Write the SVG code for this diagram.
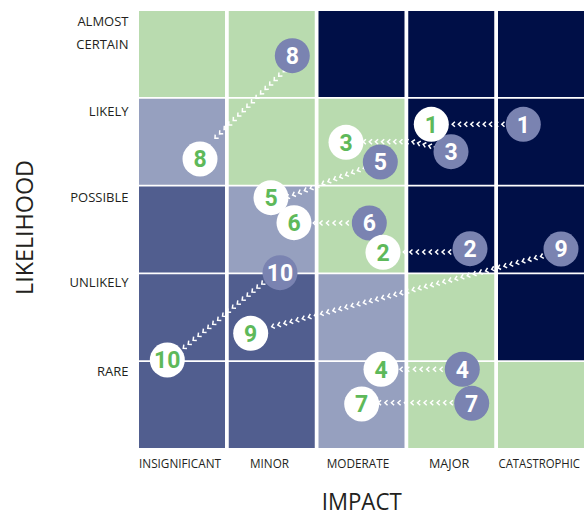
<svg xmlns="http://www.w3.org/2000/svg" width="584" height="516" viewBox="0 0 584 516">
<style>
.g{fill:#b9dbaf}.n{fill:#000f47}.m{fill:#515e8f}.l{fill:#96a0bf}
.lab{font-family:"Open Sans","Liberation Sans",sans-serif;font-size:13px;fill:#231f20}
.ax{font-family:"Open Sans","Liberation Sans",sans-serif;font-size:24px;fill:#231f20}
.wc{fill:#fff}.gc{fill:#7a83b1}
.num{font-family:Roboto,"Liberation Sans",sans-serif;font-weight:bold;font-size:23px;text-anchor:middle}
.wn{fill:#5eb95a}.gn{fill:#fff}
.con{fill:none;stroke:none;marker-start:url(#chev);marker-mid:url(#chev);marker-end:url(#chev)}
</style>
<defs>
<marker id="chev" viewBox="-4 -4 8 8" markerWidth="8" markerHeight="8" markerUnits="userSpaceOnUse" orient="auto" overflow="visible"><path d="M-2.7,-2.5L0,0L-2.7,2.5" fill="none" stroke="#fff" stroke-width="1.5"/></marker>
</defs>
<g id="grid">
<rect class="g" x="139" y="11" width="86" height="86"/><rect class="g" x="228.75" y="11" width="86" height="86"/><rect class="n" x="318.5" y="11" width="86" height="86"/><rect class="n" x="408.25" y="11" width="86" height="86"/><rect class="n" x="498" y="11" width="86" height="86"/>
<rect class="l" x="139" y="98.75" width="86" height="86"/><rect class="g" x="228.75" y="98.75" width="86" height="86"/><rect class="g" x="318.5" y="98.75" width="86" height="86"/><rect class="n" x="408.25" y="98.75" width="86" height="86"/><rect class="n" x="498" y="98.75" width="86" height="86"/>
<rect class="m" x="139" y="186.5" width="86" height="86"/><rect class="l" x="228.75" y="186.5" width="86" height="86"/><rect class="g" x="318.5" y="186.5" width="86" height="86"/><rect class="n" x="408.25" y="186.5" width="86" height="86"/><rect class="n" x="498" y="186.5" width="86" height="86"/>
<rect class="m" x="139" y="274.25" width="86" height="86"/><rect class="m" x="228.75" y="274.25" width="86" height="86"/><rect class="l" x="318.5" y="274.25" width="86" height="86"/><rect class="g" x="408.25" y="274.25" width="86" height="86"/><rect class="n" x="498" y="274.25" width="86" height="86"/>
<rect class="m" x="139" y="362" width="86" height="86"/><rect class="m" x="228.75" y="362" width="86" height="86"/><rect class="l" x="318.5" y="362" width="86" height="86"/><rect class="g" x="408.25" y="362" width="86" height="86"/><rect class="g" x="498" y="362" width="86" height="86"/>
</g>
<g id="labels">
<text class="lab" x="128.5" y="26" text-anchor="end">ALMOST</text>
<text class="lab" x="128.5" y="49" text-anchor="end">CERTAIN</text>
<text class="lab" x="128.5" y="115.7" text-anchor="end">LIKELY</text>
<text class="lab" x="128.5" y="201.5" text-anchor="end">POSSIBLE</text>
<text class="lab" x="128.5" y="287.3" text-anchor="end">UNLIKELY</text>
<text class="lab" x="128.5" y="375.7" text-anchor="end">RARE</text>
<text class="lab" x="139" y="468.3" textLength="82" lengthAdjust="spacingAndGlyphs">INSIGNIFICANT</text>
<text class="lab" x="250" y="468.3" textLength="39" lengthAdjust="spacingAndGlyphs">MINOR</text>
<text class="lab" x="326.7" y="468.3" textLength="62.6" lengthAdjust="spacingAndGlyphs">MODERATE</text>
<text class="lab" x="429" y="468.3" textLength="40.3" lengthAdjust="spacingAndGlyphs">MAJOR</text>
<text class="lab" x="498.5" y="468.3" style="font-size:12px" textLength="81.5" lengthAdjust="spacingAndGlyphs">CATASTROPHIC</text>
<text class="ax" x="321.7" y="509.5" textLength="80" lengthAdjust="spacingAndGlyphs">IMPACT</text>
<text class="ax" transform="translate(33.3,295) rotate(-90)" x="0" y="0" textLength="135" lengthAdjust="spacingAndGlyphs">LIKELIHOOD</text>
</g>
<g id="connectors">
<path id="c1" class="con" d="M508,124.3h-6.2-6.2-6.2-6.2-6.2-6.2-6.2-6.2-6.2"/>
<path id="c3" class="con" d="M440,148.3l-5.6-1.32-5.6-1.32-5.6-1.32-5.6-1.32-5.6-1.32h-6.1-6.1-6.1-6.1-6.1-6.1-6.1-6.1"/>
<path id="c5" class="con" d="M363.3,168.3l-5.89,2.23-5.89,2.23-5.89,2.23-5.89,2.23-5.89,2.23-5.89,2.23-5.89,2.23-5.89,2.23-5.89,2.23-5.89,2.23-5.89,2.23-5.89,2.23-5.89,2.23"/>
<path id="c6" class="con" d="M352.7,223h-6.57-6.57-6.57-6.57-6.57-6.57"/>
<path id="c2" class="con" d="M455,252h-6.46-6.46-6.46-6.46-6.46-6.46-6.46-6.46"/>
<path id="c9" class="con" d="M546.7,255l-6.111,1.593-6.111,1.593-6.111,1.593-6.111,1.593-6.111,1.593
-6.111,1.593-6.111,1.593-6.111,1.593-6.111,1.593-6.111,1.593
-6.111,1.593-6.111,1.593-6.111,1.593-6.111,1.593-6.111,1.593
-6.111,1.593-6.111,1.593-6.111,1.593-6.111,1.593-6.111,1.593
-6.111,1.593-6.111,1.593-6.111,1.593-6.111,1.593-6.111,1.593
-6.111,1.593-6.111,1.593-6.111,1.593-6.111,1.593-6.111,1.593
-6.111,1.593-6.111,1.593-6.111,1.593-6.111,1.593-6.111,1.593
-6.111,1.593-6.111,1.593-6.111,1.593-6.111,1.593-6.111,1.593
-6.111,1.593-6.111,1.593-6.111,1.593-6.111,1.593-6.111,1.593"/>
<path id="c10" class="con" d="M266.7,280l-4.906,4.018-4.906,4.018-4.906,4.018-4.906,4.018-4.906,4.018-4.906,4.018-4.906,4.018-4.906,4.018-4.906,4.018-4.906,4.018-4.906,4.018-4.906,4.018-4.906,4.018-4.906,4.018-4.906,4.018-4.906,4.018-4.906,4.018"/>
<path id="c8" class="con" d="M283.3,71.7l-4.553,4.44-4.553,4.44-4.553,4.44-4.553,4.44-4.553,4.44-4.553,4.44-4.553,4.44-4.553,4.44-4.553,4.44-4.553,4.44-4.553,4.44-4.553,4.44-4.553,4.44-4.553,4.44-4.553,4.44"/>
<path id="c4" class="con" d="M446.7,369.3h-6.67-6.67-6.67-6.67-6.67-6.67-6.67"/>
<path id="c7" class="con" d="M456.7,402.7h-6.53-6.53-6.53-6.53-6.53-6.53-6.53-6.53-6.53-6.53-6.53-6.53"/>
</g>
<g id="g8"><circle class="gc" cx="292.3" cy="55.7" r="17.5"/><text class="num gn" x="292.3" y="63.9">8</text></g>
<g id="g1"><circle class="gc" cx="523.3" cy="124.3" r="17.5"/><text class="num gn" x="523.3" y="132.5">1</text></g>
<g id="g3"><circle class="gc" cx="451" cy="151.7" r="17.5"/><text class="num gn" x="451" y="159.9">3</text></g>
<g id="g5"><circle class="gc" cx="380.3" cy="162" r="17.5"/><text class="num gn" x="380.3" y="170.2">5</text></g>
<g id="g6"><circle class="gc" cx="369.3" cy="223" r="17.5"/><text class="num gn" x="369.3" y="231.2">6</text></g>
<g id="g2"><circle class="gc" cx="470" cy="248.7" r="17.5"/><text class="num gn" x="470" y="256.9">2</text></g>
<g id="g9"><circle class="gc" cx="561" cy="249" r="17.5"/><text class="num gn" x="561" y="257.2">9</text></g>
<g id="g10"><circle class="gc" cx="280" cy="272.7" r="17.5"/><text class="num gn" x="280" y="280.9">10</text></g>
<g id="g4"><circle class="gc" cx="462.3" cy="369.3" r="17.5"/><text class="num gn" x="462.3" y="377.5">4</text></g>
<g id="g7"><circle class="gc" cx="471.7" cy="403.3" r="17.5"/><text class="num gn" x="471.7" y="411.5">7</text></g>
<g id="w8"><circle class="wc" cx="200" cy="159" r="17.5"/><text class="num wn" x="200" y="167.2">8</text></g>
<g id="w1"><circle class="wc" cx="431.3" cy="124.3" r="17.5"/><text class="num wn" x="431.3" y="132.5">1</text></g>
<g id="w3"><circle class="wc" cx="346" cy="142.3" r="17.5"/><text class="num wn" x="346" y="150.5">3</text></g>
<g id="w5"><circle class="wc" cx="271" cy="197.7" r="17.5"/><text class="num wn" x="271" y="205.9">5</text></g>
<g id="w6"><circle class="wc" cx="294" cy="222.7" r="17.5"/><text class="num wn" x="294" y="230.9">6</text></g>
<g id="w2"><circle class="wc" cx="383" cy="252.3" r="17.5"/><text class="num wn" x="383" y="260.5">2</text></g>
<g id="w9"><circle class="wc" cx="250.7" cy="333.3" r="17.5"/><text class="num wn" x="250.7" y="341.5">9</text></g>
<g id="w10"><circle class="wc" cx="167.3" cy="360" r="17.5"/><text class="num wn" x="167.3" y="368.2">10</text></g>
<g id="w4"><circle class="wc" cx="381" cy="369.3" r="17.5"/><text class="num wn" x="381" y="377.5">4</text></g>
<g id="w7"><circle class="wc" cx="361.7" cy="404" r="17.5"/><text class="num wn" x="361.7" y="412.2">7</text></g>
</svg>
